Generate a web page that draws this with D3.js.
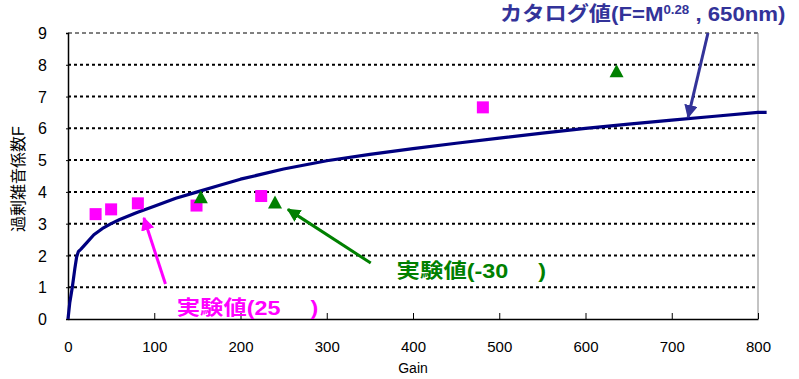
<!DOCTYPE html>
<html>
<head>
<meta charset="utf-8">
<script src="https://cdn.jsdelivr.net/npm/d3@7"></script>
<style>
html,body{margin:0;padding:0;background:#fff;}
svg{display:block;}
text{font-family:"Liberation Sans",Arial,"Noto Sans CJK JP",sans-serif;}
</style>
</head>
<body>
<svg id="chart" width="799" height="379"></svg>
<script>
// ---- data ----
const catalogGain = [0, 2, 5, 8, 10, 12, 15, 20, 30, 40, 50, 60, 80, 100, 125, 150, 175, 200, 250, 300, 350, 400, 450, 500, 550, 600, 650, 700, 750, 800, 810];
const catalogF    = [0, 0.5, 1.0, 1.6, 1.95, 2.12, 2.2, 2.35, 2.65, 2.85, 3.0, 3.13, 3.35, 3.55, 3.8, 4.0, 4.2, 4.4, 4.72, 4.98, 5.18, 5.36, 5.53, 5.69, 5.85, 6.0, 6.13, 6.26, 6.38, 6.5, 6.5];
const exp25Gain = [32, 50, 81, 149, 224, 481];
const exp25F    = [3.3, 3.45, 3.64, 3.57, 3.87, 6.66];
const expM30Gain = [154, 240, 636];
const expM30F    = [3.83, 3.67, 7.8];
const xTicks = [0, 100, 200, 300, 400, 500, 600, 700, 800];
const yTicks = [0, 1, 2, 3, 4, 5, 6, 7, 8, 9];
const xLabel = "Gain";
const yLabel = "過剰雑音係数F";
const labelCatalog = ["カタログ値(F=M", "0.28", " , 650nm)"];
const label25 = "実験値(25　 )";
const labelM30 = "実験値(-30　 )";

// ---- layout ----
const svg = d3.select("#chart");
const x = d3.scaleLinear().domain([0, 800]).range([68, 758]);
const y = d3.scaleLinear().domain([0, 9]).range([319, 33]);

// gridlines
svg.append("g").selectAll("line").data(yTicks.filter(d => d > 0)).join("line")
  .attr("x1", x(0)).attr("x2", x(800))
  .attr("y1", d => y(d)).attr("y2", d => y(d))
  .attr("stroke", "#000")
  .attr("stroke-width", d => d === 9 ? 1 : 2)
  .attr("stroke-dasharray", d => d === 9 ? "4,3" : "3,3");

// right border
svg.append("line").attr("x1", x(800)).attr("x2", x(800)).attr("y1", y(9)).attr("y2", y(0))
  .attr("stroke", "#888").attr("stroke-width", 1);

// x axis
const xAxis = d3.axisBottom(x).tickValues(xTicks).tickSize(0).tickPadding(0).tickFormat(d3.format("d"));
const gx = svg.append("g").attr("transform", `translate(0,${y(0)})`).call(xAxis);
gx.select(".domain").attr("stroke", "#000").attr("stroke-width", 1.5);
gx.selectAll(".tick text").attr("dy", 0).attr("y", 33).attr("font-size", 15).attr("fill", "#000")
  .attr("font-family", "'Liberation Sans', Arial, sans-serif");
gx.selectAll(".tick").append("line").attr("y1", 0).attr("y2", -6).attr("stroke", "#000").attr("stroke-width", 1);

// y axis
const yAxis = d3.axisLeft(y).tickValues(yTicks).tickSize(2).tickPadding(19).tickFormat(d3.format("d"));
const gy = svg.append("g").attr("transform", `translate(${x(0)},0)`).call(yAxis);
gy.select(".domain").attr("stroke", "#000").attr("stroke-width", 1.5);
gy.selectAll(".tick line").attr("stroke", "#000");
gy.selectAll(".tick text").attr("font-size", 16).attr("fill", "#000").attr("dy", "0.35em")
  .attr("font-family", "'Liberation Sans', Arial, sans-serif");

// axis labels
svg.append("text").attr("x", (x(0) + x(800)) / 2).attr("y", 373).attr("text-anchor", "middle")
  .attr("font-size", 14).text(xLabel);
svg.append("text").attr("transform", `translate(24,${(y(0) + y(9)) / 2 + 3}) rotate(-90)`)
  .attr("text-anchor", "middle").attr("font-size", 16).text(yLabel);

// catalog curve
const curveData = catalogGain.map((g, i) => [g, catalogF[i]]);
svg.append("path").datum(curveData)
  .attr("d", d3.line().x(d => x(d[0])).y(d => y(d[1])))
  .attr("fill", "none").attr("stroke", "#000080").attr("stroke-width", 3.2).attr("stroke-linejoin", "round");

// markers: 25
const sq = 12;
svg.append("g").selectAll("rect").data(exp25Gain.map((g, i) => [g, exp25F[i]])).join("rect")
  .attr("x", d => x(d[0]) - sq / 2).attr("y", d => y(d[1]) - sq / 2)
  .attr("width", sq).attr("height", sq).attr("fill", "#ff00ff");

// markers: -30
svg.append("g").selectAll("path").data(expM30Gain.map((g, i) => [g, expM30F[i]])).join("path")
  .attr("transform", d => `translate(${x(d[0])},${y(d[1])})`)
  .attr("d", "M0,-7 L7,6 L-7,6 Z").attr("fill", "#008000");

// arrows
const defs = svg.append("defs");
function marker(id, color) {
  defs.append("marker").attr("id", id).attr("viewBox", "0 0 10 10").attr("refX", 9).attr("refY", 5)
    .attr("markerWidth", 4.5).attr("markerHeight", 4.5).attr("orient", "auto").attr("markerUnits", "strokeWidth")
    .append("path").attr("d", "M0,0 L10,5 L0,10 Z").attr("fill", color);
}
marker("ab", "#333399"); marker("ag", "#008000"); marker("am", "#ff00ff");
const arrowsFrom = [[742, 9.0], [351, 1.76], [113, 1.1]];
const arrowsTo   = [[719, 6.35], [255, 3.45], [88, 3.18]];
const arrowColors = ["#333399", "#008000", "#ff00ff"];
const arrowIds = ["ab", "ag", "am"];
svg.append("g").selectAll("line").data(arrowsFrom).join("line")
  .attr("x1", d => x(d[0])).attr("y1", d => y(d[1]))
  .attr("x2", (d, i) => x(arrowsTo[i][0])).attr("y2", (d, i) => y(arrowsTo[i][1]))
  .attr("stroke", (d, i) => arrowColors[i]).attr("stroke-width", 3)
  .attr("marker-end", (d, i) => `url(#${arrowIds[i]})`);

// labels (horizontally stretched like the reference)
const stretch = 1.17;
const t = svg.append("text").attr("transform", `translate(${x(501)},21) scale(1.11,1)`)
  .attr("font-size", 20).attr("font-weight", "bold").attr("fill", "#333399");
t.append("tspan").text(labelCatalog[0]);
t.append("tspan").attr("font-size", 12).attr("dy", -7).text(labelCatalog[1]);
t.append("tspan").attr("dy", 7).text(labelCatalog[2]);

svg.append("text").attr("transform", `translate(${x(381)},${y(1.3)}) scale(${stretch},1)`)
  .attr("font-size", 20).attr("font-weight", "bold").attr("fill", "#008000").text(labelM30);
svg.append("text").attr("transform", `translate(${x(126)},${y(0.12)}) scale(${stretch},1)`)
  .attr("font-size", 20).attr("font-weight", "bold").attr("fill", "#ff00ff").text(label25);
</script>
</body>
</html>
